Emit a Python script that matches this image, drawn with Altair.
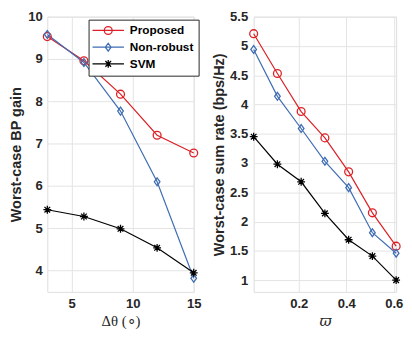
import altair as alt
import pandas as pd

series = ["Proposed", "Non-robust", "SVM"]
colors = ["#dc2025", "#3f6db3", "#000000"]

# left panel: worst-case BP gain vs delta theta
dtheta = [3, 6, 9, 12, 15]
bp_proposed = [9.53, 8.96, 8.17, 7.20, 6.78]
bp_nonrobust = [9.58, 8.92, 7.77, 6.10, 3.82]
bp_svm = [5.44, 5.28, 4.99, 4.54, 3.95]

# right panel: worst-case sum rate vs varpi
varpi = [0.01, 0.11, 0.21, 0.31, 0.41, 0.51, 0.61]
sr_proposed = [5.21, 4.53, 3.88, 3.43, 2.85, 2.15, 1.58]
sr_nonrobust = [4.94, 4.14, 3.59, 3.03, 2.58, 1.81, 1.46]
sr_svm = [3.45, 2.98, 2.68, 2.14, 1.69, 1.41, 1.00]

left_ticks_x = [5, 10, 15]
left_ticks_y = [4, 5, 6, 7, 8, 9, 10]
right_ticks_x = [0.2, 0.4, 0.6]
right_ticks_y = [1, 1.5, 2, 2.5, 3, 3.5, 4, 4.5, 5, 5.5]

marker_paths = [
    "M1,0A1,1 0 1,1 -1,0A1,1 0 1,1 1,0Z",
    "M-0.72,0L0,-1L0.72,0L0,1Z",
    "M-1,0L1,0M0,-1L0,1M-0.72,-0.72L0.72,0.72M-0.72,0.72L0.72,-0.72",
]
legend_paths = [
    "M-1.75,0L6.25,0M3.25,0A1,1 0 1,1 1.25,0A1,1 0 1,1 3.25,0",
    "M-1.75,0L6.25,0M1.53,0L2.25,-1L2.97,0L2.25,1Z",
    "M-1.75,0L6.25,0M2.25,-1L2.25,1M1.53,-0.72L2.97,0.72M1.53,0.72L2.97,-0.72",
]


def long_df(xs, ys_list):
    rows = []
    for s, ys in zip(series, ys_list):
        for xv, yv in zip(xs, ys):
            rows.append({"x": xv, "y": yv, "series": s})
    return pd.DataFrame(rows)


df_left = long_df(dtheta, [bp_proposed, bp_nonrobust, bp_svm])
df_right = long_df(varpi, [sr_proposed, sr_nonrobust, sr_svm])

SANS = "Liberation Sans"
TXT = "#262626"
GRID = "#e3e3e3"


def panel(df, xdom, ydom, xt, yt, xtitle, ytitle, xtitle_font, xtitle_style, yfmt,
          with_legend, w, h, ylabpad, ytitlepad):
    x_axis = alt.Axis(values=xt, title=xtitle, grid=True, gridColor=GRID, domain=False,
                      ticks=False,
                      labelFont=SANS, labelFontWeight="bold", labelFontSize=13.3, labelColor=TXT,
                      labelPadding=5, titleFont=xtitle_font, titleFontStyle=xtitle_style,
                      titleFontWeight="normal", titleFontSize=15, titleColor=TXT, titlePadding=4,
                      labelFlush=False, labelOverlap=False)
    y_axis = alt.Axis(values=yt, title=ytitle, grid=True, gridColor=GRID, domain=False,
                      ticks=False, format=yfmt,
                      labelFont=SANS, labelFontWeight="bold", labelFontSize=13.3, labelColor=TXT,
                      labelPadding=ylabpad, titleFont=SANS, titleFontWeight="bold", titleFontSize=14.7,
                      titleColor=TXT, titlePadding=ytitlepad, labelOverlap=False, labelFlush=False)
    X = alt.X("x:Q", scale=alt.Scale(domain=xdom, nice=False, zero=False), axis=x_axis)
    Y = alt.Y("y:Q", scale=alt.Scale(domain=ydom, nice=False, zero=False), axis=y_axis)
    cscale = alt.Scale(domain=series, range=colors)
    base = alt.Chart(df)
    line = base.mark_line(strokeWidth=1.2).encode(
        x=X, y=Y, color=alt.Color("series:N", scale=cscale, legend=None))
    pts = base.mark_point(filled=False, strokeWidth=1.3, size=64, opacity=1).encode(
        x=X, y=Y,
        color=alt.Color("series:N", scale=cscale, legend=None),
        shape=alt.Shape("series:N", scale=alt.Scale(domain=series, range=marker_paths), legend=None))
    layers = [line, pts]
    if with_legend:
        leg = alt.Legend(title=None, orient="none", legendX=42, legendY=3,
                         fillColor="white", strokeColor=TXT, padding=5,
                         labelFont=SANS, labelFontWeight="bold", labelFontSize=12,
                         labelColor="#000000", symbolSize=64, symbolStrokeWidth=1.3,
                         labelOffset=25, rowPadding=3)
        leg_layer = base.mark_point(filled=False, strokeWidth=1.3, size=64, opacity=1).encode(
            x=X, y=Y,
            color=alt.Color("series:N", scale=cscale, legend=leg),
            shape=alt.Shape("series:N", scale=alt.Scale(domain=series, range=legend_paths), legend=leg),
        ).transform_filter("false")
        layers.append(leg_layer)
    ch = alt.layer(*layers).resolve_scale(shape="independent", color="independent")
    return ch.properties(width=w, height=h)


left = panel(df_left, [3, 15], [3.5, 10], left_ticks_x, left_ticks_y,
             "\u0394\u03b8 (\u2218)", "Worst-case BP gain", "Liberation Serif", "normal", "d",
             True, 149, 280, 5, 4)
right = panel(df_right, [0.01, 0.61], [0.8, 5.5], right_ticks_x, right_ticks_y,
              "\u03d6", "Worst-case sum rate (bps/Hz)", "DejaVu Serif", "italic", "~g",
              False, 145, 280, 6, 3)

chart = alt.hconcat(left, right, spacing=10).properties(
    padding={"left": 0, "top": -2, "right": 0, "bottom": 0}
).configure_view(stroke="#4d4d4d", strokeWidth=1).configure(background="white")

chart.save("out.html", embed_options={"renderer": "svg", "actions": False})
